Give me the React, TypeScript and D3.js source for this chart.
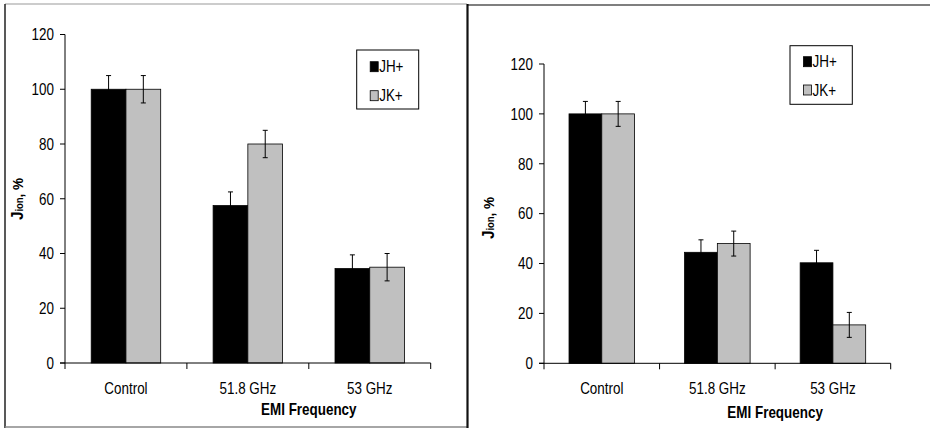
import React from "react";
import * as d3 from "d3";

const categories = ["Control", "51.8 GHz", "53 GHz"];
const seriesNames = ["JH+", "JK+"];
const leftJH = [100, 57.5, 34.5];
const leftJK = [100, 80, 35];
const leftJHErr = [5, 5, 5];
const leftJKErr = [5, 5, 5];
const rightJH = [100, 44.5, 40.3];
const rightJK = [100, 48, 15.4];
const rightJHErr = [5, 5, 5];
const rightJKErr = [5, 5, 5];
const yTicks = [0, 20, 40, 60, 80, 100, 120];
const xTitle = "EMI Frequency";

const colors = ["#000000", "#c0c0c0"];
const FONT = "'Liberation Sans', Arial, sans-serif";
const FS = 16;
const SX = 0.84;

function NText(props: { x: number; y: number; anchor?: string; bold?: boolean; dy?: string; size?: number; children: React.ReactNode }) {
  return (
    <g transform={`translate(${props.x},${props.y}) scale(${SX},1)`}>
      <text x={0} y={0} dy={props.dy} textAnchor={props.anchor || "start"} fontSize={props.size || FS}
        fontWeight={props.bold ? "bold" : "normal"} fontFamily={FONT} fill="#000">{props.children}</text>
    </g>
  );
}

type PanelProps = {
  x0: number; x1: number; y0: number; yTop: number;
  groupFrac: number;
  values: number[][]; errs: number[][];
  legend: { x: number; y: number; w: number; h: number; rows: number[] };
  yLabelX: number; yLabelY: number;
  catY: number; titleY: number;
};

function Panel(p: PanelProps) {
  const y = d3.scaleLinear().domain([0, 120]).range([p.y0, p.yTop]);
  const xb = d3.scaleBand<string>().domain(categories).range([p.x0, p.x1]).padding(0);
  const bw = xb.bandwidth();
  const gw = bw * p.groupFrac;
  const xs = d3.scaleBand<string>().domain(seriesNames).range([0, gw]).padding(0);
  const boundaries = [...categories.map((c) => xb(c)!), p.x1];
  return (
    <g>
      {categories.map((c, i) => {
        const gx = xb(c)! + (bw - gw) / 2;
        return (
          <g key={c}>
            {seriesNames.map((s, j) => {
              const v = p.values[j][i];
              const bx = gx + xs(s)!;
              return (
                <rect key={s} x={bx} y={y(v)} width={xs.bandwidth()} height={y(0) - y(v)}
                  fill={colors[j]} stroke="#000" strokeWidth={0.8} />
              );
            })}
            {seriesNames.map((s, j) => {
              const v = p.values[j][i];
              const e = p.errs[j][i];
              const cx = gx + xs(s)! + xs.bandwidth() / 2;
              return (
                <g key={"e" + s} stroke="#000" strokeWidth={1}>
                  <line x1={cx} x2={cx} y1={y(v + e)} y2={y(v - e)} />
                  <line x1={cx - 2.5} x2={cx + 2.5} y1={y(v + e)} y2={y(v + e)} />
                  <line x1={cx - 2.5} x2={cx + 2.5} y1={y(v - e)} y2={y(v - e)} />
                </g>
              );
            })}
          </g>
        );
      })}
      <line x1={p.x0} x2={p.x0} y1={y(120)} y2={y(0)} stroke="#000" strokeWidth={1} />
      {yTicks.map((t) => (
        <g key={t}>
          <line x1={p.x0 - 5} x2={p.x0} y1={y(t)} y2={y(t)} stroke="#000" strokeWidth={1} />
          <NText x={p.x0 - 11} y={y(t)} dy="0.36em" anchor="end">{t}</NText>
        </g>
      ))}
      <line x1={p.x0 - 5} x2={p.x1} y1={y(0)} y2={y(0)} stroke="#000" strokeWidth={1} />
      {boundaries.map((bx, i) => (
        <line key={i} x1={bx} x2={bx} y1={y(0)} y2={y(0) + 6} stroke="#000" strokeWidth={1} />
      ))}
      {categories.map((c) => (
        <NText key={c} x={xb(c)! + bw / 2} y={p.catY} anchor="middle">{c}</NText>
      ))}
      <NText x={boundaries[2]} y={p.titleY} anchor="middle" bold>{xTitle}</NText>
      <g transform={`translate(${p.yLabelX},${p.yLabelY}) rotate(-90) scale(0.9,1)`}>
        <text x={0} y={0} textAnchor="middle" fontFamily={FONT} fontWeight="bold" fill="#000" fontSize={15}>
          <tspan fontSize={17}>J</tspan>
          <tspan fontSize={10.5}>ion</tspan>
          <tspan>, %</tspan>
        </text>
      </g>
      <rect x={p.legend.x} y={p.legend.y} width={p.legend.w} height={p.legend.h}
        fill="#fff" stroke="#000" strokeWidth={1} />
      {seriesNames.map((s, j) => (
        <g key={s}>
          <rect x={p.legend.x + 13.5} y={p.legend.rows[j] - 5} width={8} height={10}
            fill={colors[j]} stroke="#000" strokeWidth={0.8} />
          <NText x={p.legend.x + 22.5} y={p.legend.rows[j]} dy="0.36em">{s}</NText>
        </g>
      ))}
    </g>
  );
}

export default function App() {
  return (
    <svg width={930} height={428} style={{ position: "absolute", left: 0, top: 0, background: "#fff" }}>
      <rect x={0} y={0} width={930} height={428} fill="#fff" />
      <line x1={5} x2={467} y1={4} y2={4} stroke="#999" strokeWidth={1.2} />
      <line x1={5} x2={5} y1={4} y2={428} stroke="#222" strokeWidth={1.5} />
      <line x1={5} x2={467} y1={427} y2={427} stroke="#888" strokeWidth={1.5} />
      <line x1={467.5} x2={467.5} y1={4} y2={428} stroke="#111" strokeWidth={2.2} />
      <line x1={467} x2={930} y1={5} y2={5} stroke="#000" strokeWidth={1.2} />
      <Panel x0={65} x1={430.7} y0={363} yTop={34.5} groupFrac={0.57}
        values={[leftJH, leftJK]} errs={[leftJHErr, leftJKErr]}
        legend={{ x: 356.7, y: 50, w: 62, h: 59, rows: [66.7, 95.7] }}
        yLabelX={23} yLabelY={199} catY={393.5} titleY={414.5} />
      <Panel x0={544} x1={890.7} y0={363.3} yTop={64} groupFrac={0.567}
        values={[rightJH, rightJK]} errs={[rightJHErr, rightJKErr]}
        legend={{ x: 790, y: 45.7, w: 62.3, h: 58.6, rows: [61.7, 90] }}
        yLabelX={494} yLabelY={218} catY={393.5} titleY={417.5} />
    </svg>
  );
}
